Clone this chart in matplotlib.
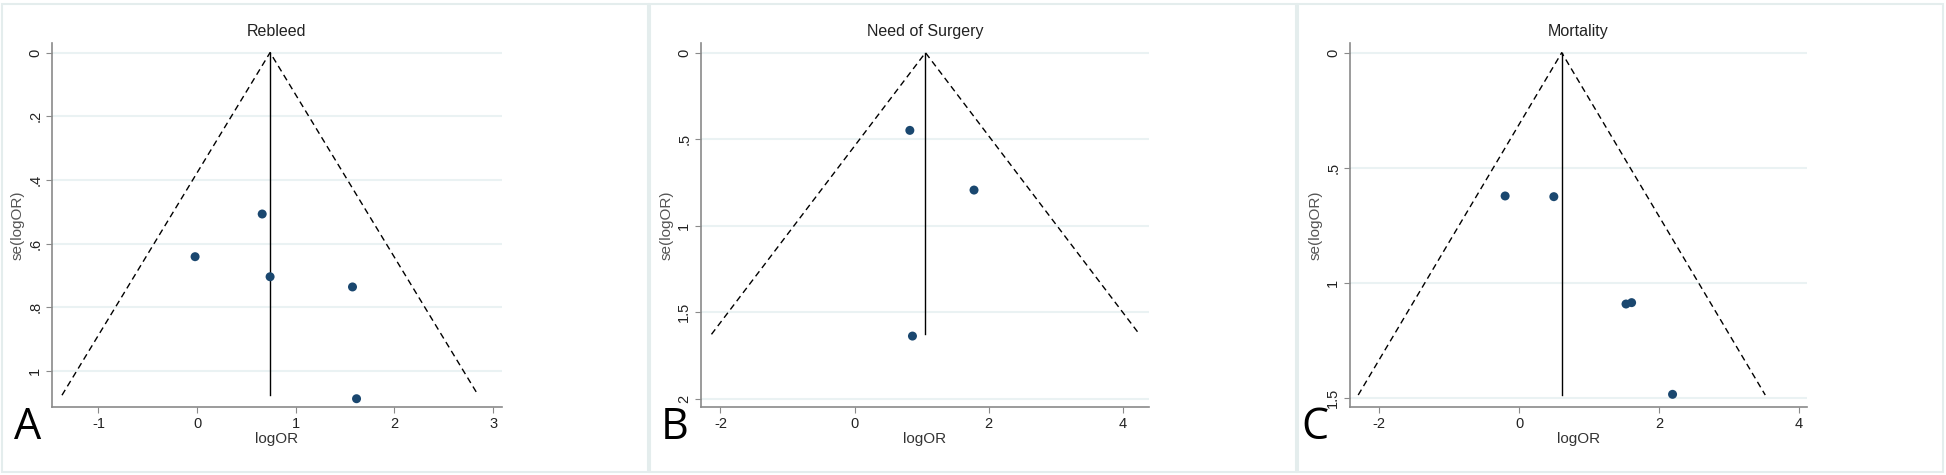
import numpy as np
import matplotlib
matplotlib.use('Agg')
import matplotlib.pyplot as plt
from matplotlib.patches import Rectangle

plt.rcParams['font.family'] = ['Liberation Sans', 'DejaVu Sans']

# panel A: Rebleed
a_title = 'Rebleed'
a_logor = [0.66, -0.02, 0.74, 1.575, 1.616]
a_se = [0.507, 0.641, 0.704, 0.736, 1.087]
a_pooled = 0.74
a_semax = 1.076
a_xticks = [-1, 0, 1, 2, 3]
a_yticks = [0, 0.2, 0.4, 0.6, 0.8, 1.0]
a_yticklabels = ['0', '.2', '.4', '.6', '.8', '1']

# panel B: Need of Surgery
b_title = 'Need of Surgery'
b_logor = [0.824, 1.781, 0.863]
b_se = [0.449, 0.794, 1.638]
b_pooled = 1.057
b_semax = 1.628
b_xticks = [-2, 0, 2, 4]
b_yticks = [0, 0.5, 1.0, 1.5, 2.0]
b_yticklabels = ['0', '.5', '1', '1.5', '2']

# panel C: Mortality
c_title = 'Mortality'
c_logor = [-0.20, 0.497, 1.53, 1.61, 2.196]
c_se = [0.622, 0.625, 1.091, 1.085, 1.483]
c_pooled = 0.61
c_semax = 1.486
c_xticks = [-2, 0, 2, 4]
c_yticks = [0, 0.5, 1.0, 1.5]
c_yticklabels = ['0', '.5', '1', '1.5']

W, H = 1946, 475
fig = plt.figure(figsize=(W / 100.0, H / 100.0), dpi=100)
fig.patch.set_facecolor('white')


def px(x0, x1, ytop, ybot):
    return [x0 / W, 1 - ybot / H, (x1 - x0) / W, (ybot - ytop) / H]


def funnel(rect, title, logor, se, pooled, semax, xticks, yticks, yticklabels,
           xlim, ylim, letter, letter_x, border):
    # light frame round the panel
    bx0, bx1 = border
    fig.patches.append(Rectangle((bx0 / W, 3 / H), (bx1 - bx0) / W, (H - 7) / H,
                                 transform=fig.transFigure, fill=False,
                                 edgecolor='#e4eded', lw=1.5))
    ax = fig.add_axes(px(*rect))
    ax.set_xlim(*xlim)
    ax.set_ylim(*ylim)

    ax.set_yticks(yticks)
    ax.set_yticklabels(yticklabels, rotation=90, va='center')
    ax.set_xticks(xticks)
    ax.set_xticklabels(['%g' % t for t in xticks])
    for y in yticks:
        ax.axhline(y, color='#eaf2f3', lw=1.5, zorder=0)

    # pseudo 95% limits
    ax.plot([pooled - 1.96 * semax, pooled, pooled + 1.96 * semax],
            [semax, 0, semax], color='black', ls=(0, (4.5, 3)), lw=1.0)
    ax.plot([pooled, pooled], [0, semax], color='black', lw=1.0)
    ax.scatter(logor, se, s=42, color='#1a476f', zorder=3, edgecolor='none')

    for s in ['top', 'right']:
        ax.spines[s].set_visible(False)
    for s in ['left', 'bottom']:
        ax.spines[s].set_color('#8a8a8a')
        ax.spines[s].set_linewidth(1.2)
    ax.tick_params(colors='#8a8a8a', labelcolor='#222222', labelsize=10.5,
                   length=4, width=0.8, pad=3)
    ax.set_title(title, fontsize=11.5, color='#222222', pad=5)
    ax.set_xlabel('logOR', fontsize=11, color='#333333', labelpad=1)
    ax.set_ylabel('se(logOR)', fontsize=11, color='#555555')
    wpx = rect[1] - rect[0]
    ax.yaxis.set_label_coords(-27.0 / wpx, 0.5)
    fig.text(letter_x / W, 1 - 428 / H, letter, fontsize=31, family='Open Sans',
             va='center', ha='left', color='black')
    return ax


funnel((52, 502, 43, 407), a_title, a_logor, a_se, a_pooled, a_semax,
       a_xticks, a_yticks, a_yticklabels, (-1.47, 3.09), (1.113, -0.03),
       'A', 14, (2, 648))
funnel((701, 1149, 43, 407), b_title, b_logor, b_se, b_pooled, b_semax,
       b_xticks, b_yticks, b_yticklabels, (-2.29, 4.39), (2.048, -0.056),
       'B', 661, (650, 1296))
funnel((1350, 1807, 43, 407), c_title, c_logor, c_se, c_pooled, c_semax,
       c_xticks, c_yticks, c_yticklabels, (-2.42, 4.12), (1.538, -0.042),
       'C', 1301, (1298, 1943))

fig.savefig('out.png', dpi=100)
